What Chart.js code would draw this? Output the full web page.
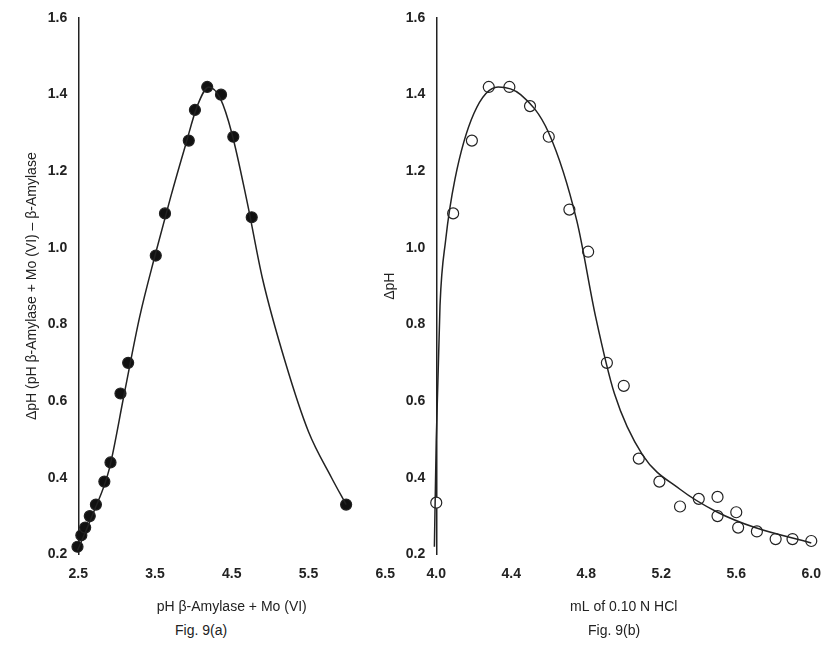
<!DOCTYPE html>
<html><head>
<script src="https://cdn.jsdelivr.net/npm/chart.js@4"></script>
<style>
body{margin:0;background:#fff;font-family:"Liberation Sans",Arial,sans-serif;}
.wrap{position:absolute;top:0;height:620px;}
.cap{position:absolute;top:622px;font-size:14px;color:#222;}
</style></head><body>
<div class="wrap" style="left:0;width:398px"><canvas id="a"></canvas></div>
<div class="wrap" style="left:368px;width:456px"><canvas id="b"></canvas></div>
<div class="cap" style="left:175px">Fig. 9(a)</div>
<div class="cap" style="left:588px">Fig. 9(b)</div>
<script>
// Fig 9(a) measured points
const phA = [2.49,2.54,2.59,2.65,2.73,2.84,2.92,3.05,3.15,3.51,3.63,3.94,4.02,4.18,4.36,4.52,4.76,5.99];
const dA  = [0.22,0.25,0.27,0.30,0.33,0.39,0.44,0.62,0.70,0.98,1.09,1.28,1.36,1.42,1.40,1.29,1.08,0.33];
const curveAx = [2.49,2.7,2.9,3.1,3.3,3.5,3.7,3.9,4.05,4.2,4.35,4.5,4.7,4.9,5.2,5.5,5.8,5.99];
const curveAy = [0.21,0.31,0.42,0.62,0.82,0.98,1.13,1.27,1.37,1.42,1.39,1.30,1.12,0.92,0.70,0.52,0.40,0.33];
// Fig 9(b) measured points
const mlB = [4.0,4.09,4.19,4.28,4.39,4.5,4.6,4.71,4.81,4.91,5.0,5.08,5.19,5.3,5.4,5.5,5.5,5.6,5.61,5.71,5.81,5.9,6.0];
const dB  = [0.335,1.09,1.28,1.42,1.42,1.37,1.29,1.10,0.99,0.70,0.64,0.45,0.39,0.325,0.345,0.35,0.30,0.31,0.27,0.26,0.24,0.24,0.235];
const curveBx = [3.99,4.0,4.02,4.05,4.1,4.2,4.33,4.45,4.6,4.75,4.85,4.95,5.1,5.3,5.5,5.7,6.0];
const curveBy = [0.22,0.5,0.85,1.02,1.18,1.35,1.42,1.40,1.30,1.07,0.82,0.62,0.46,0.37,0.31,0.27,0.23];
const yTicks = [0.2,0.4,0.6,0.8,1.0,1.2,1.4,1.6];

const font = {family:'"Liberation Sans",Arial,sans-serif', size:14, weight:'bold'};
const tfont = {family:'"Liberation Sans",Arial,sans-serif', size:14};
function make(id, px, py, cx, cy, xmin, xmax, step, xlabel, ylabel, fill, padL, padR){
  new Chart(document.getElementById(id), {
    type:'scatter',
    data:{datasets:[
      {data:cx.map((x,i)=>({x, y:cy[i]})), showLine:true, cubicInterpolationMode:'monotone',
       borderColor:'#222', borderWidth:1.5, pointRadius:0, clip:false},
      {data:px.map((x,i)=>({x, y:py[i]})), pointRadius:5.5, pointBackgroundColor:fill,
       pointBorderColor:'#222', pointBorderWidth:1.2, clip:false}
    ]},
    options:{responsive:true, maintainAspectRatio:false, animation:false,
      layout:{padding:{top:18,right:padR,left:padL}},
      plugins:{legend:{display:false}, tooltip:{enabled:false}},
      scales:{
        x:{type:'linear', min:xmin, max:xmax, border:{display:false}, grid:{display:false},
           afterBuildTicks:s=>{s.ticks=[];for(let v=xmin;v<=xmax+1e-9;v+=step)s.ticks.push({value:+v.toFixed(2)});},
           ticks:{color:'#222', font, callback:v=>v.toFixed(1)},
           title:{display:true, text:xlabel, color:'#222', font:tfont, padding:{top:14}}},
        y:{min:0.2, max:1.6, border:{color:'#222', width:1.5}, grid:{display:false},
           afterBuildTicks:s=>{s.ticks=yTicks.map(v=>({value:v}));},
           ticks:{color:'#222', font, callback:v=>v.toFixed(1)},
           title:{display:true, text:ylabel, color:'#222', font:tfont}}
      }}
  });
}
make('a', phA, dA, curveAx, curveAy, 2.5, 6.5, 1, 'pH \u03b2-Amylase + Mo (VI)', '\u0394pH (pH \u03b2-Amylase + Mo (VI) \u2013 \u03b2-Amylase', '#111', 20, 0);
make('b', mlB, dB, curveBx, curveBy, 4.0, 6.0, 0.4, 'mL of 0.10 N HCl', '\u0394pH', '#fff', 10, 12);
</script>
</body></html>
